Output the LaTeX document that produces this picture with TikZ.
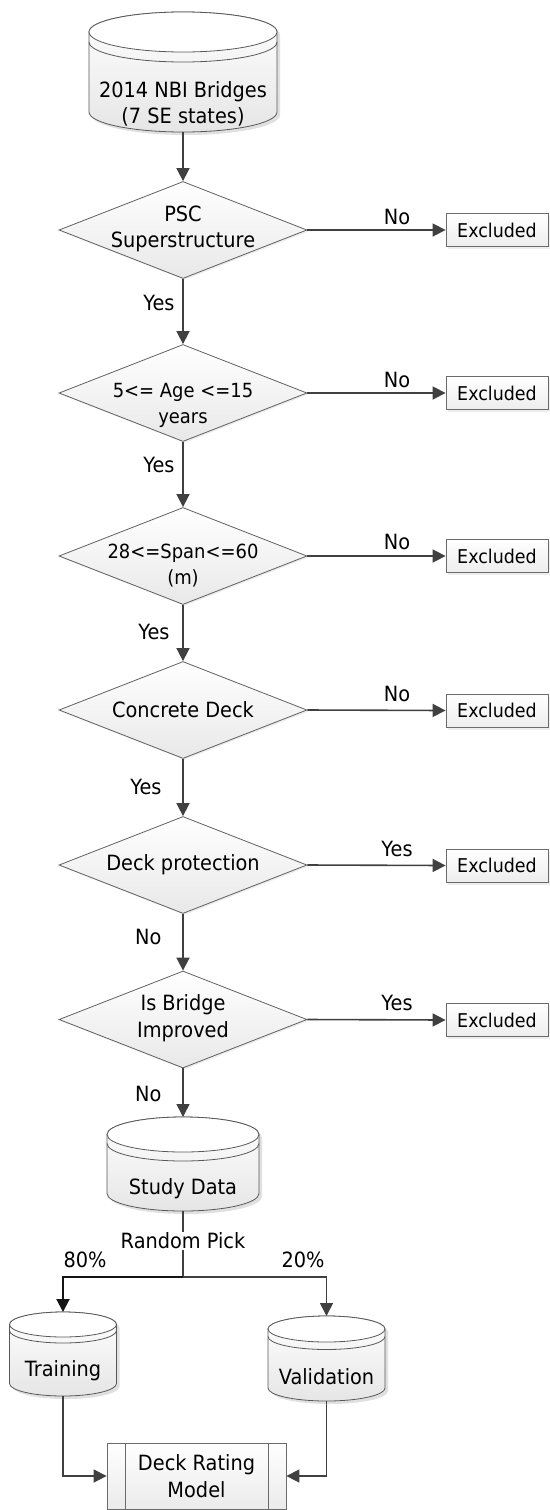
\documentclass[tikz,border=0pt]{standalone}
\usepackage{fontspec}
\setmainfont{DejaVu Sans}[FakeStretch=0.92]
\usetikzlibrary{shapes.geometric,arrows.meta,calc,shadows}

\tikzset{
  flowline/.style={draw=black!75, line width=1.6pt},
  flowarrow/.style={flowline, -{Triangle[length=13pt,width=13pt]}},
  decision/.style={diamond, draw=black!62, line width=0.8pt, inner sep=0pt,
    minimum width=248pt, minimum height=97pt, aspect=2.56,
    top color=white, bottom color=black!9,
    drop shadow={shadow xshift=1.5pt, shadow yshift=-1.5pt, fill=black!14}},
  excl/.style={rectangle, draw=black!58, line width=0.8pt, inner sep=0pt,
    minimum width=102pt, minimum height=33pt,
    top color=white, bottom color=black!7,
    font=\fontsize{19}{24}\selectfont,
    drop shadow={shadow xshift=2pt, shadow yshift=-2.5pt, fill=black!14}},
  procbox/.style={rectangle, draw=black!58, line width=0.8pt, inner sep=0pt,
    top color=white, bottom color=black!8, align=center},
  drumbody/.style={draw=black!65, line width=0.8pt, top color=white, bottom color=black!10},
  drumlid/.style={draw=black!65, line width=0.8pt, fill=white},
  drumrim/.style={draw=black!65, line width=0.8pt},
  drumhit/.style={rectangle, inner sep=0pt, outer sep=0pt},
  smalltext/.style={font=\fontsize{19.5}{26}\selectfont, align=center},
}

% database drum: centre x, top y, bottom y, x radius, y radius, rim gap
\newcommand\DrawDrum[6]{%
  \fill[black!12] ({#1-#4+3},{#2+#5+3}) -- ({#1-#4+3},{#3-#5+3})
     arc[start angle=180,end angle=360,x radius=#4pt,y radius=#5pt]
     -- ({#1+#4+3},{#2+#5+3})
     arc[start angle=0,end angle=180,x radius=#4pt,y radius=#5pt] -- cycle;
  \path[drumbody] ({#1-#4},{#2+#5}) -- ({#1-#4},{#3-#5})
     arc[start angle=180,end angle=360,x radius=#4pt,y radius=#5pt]
     -- ({#1+#4},{#2+#5})
     arc[start angle=0,end angle=180,x radius=#4pt,y radius=#5pt] -- cycle;
  \path[drumlid] (#1,{#2+#5}) ellipse[x radius=#4pt,y radius=#5pt];
  \draw[drumrim] ({#1-#4},{#2+#5+#6})
     arc[start angle=180,end angle=360,x radius=#4pt,y radius=#5pt];
}

\begin{document}
\begin{tikzpicture}[x=1pt, y=-1pt, font=\fontsize{21}{26.5}\selectfont]
\useasboundingbox (0,0) rectangle (549,1510);

% source data
\DrawDrum{183}{12}{132}{94}{20}{10}
\node[drumhit, minimum width=188pt, minimum height=120pt] (src) at (183,72) {};
\node[align=center] (srct) at (183,104) {2014 NBI Bridges\\(7 SE states)};

% screening decisions
\node[decision] (d1) at (183,230) {};
\node[align=center] (d1t) at (183,229) {PSC\\Superstructure};
\node[decision] (d2) at (183,393) {};
\node[smalltext] (d2t) at (183,405) {5<= Age <=15\\years};
\node[decision] (d3) at (183,556) {};
\node[smalltext] (d3t) at (183,566) {28<=Span<=60\\(m)};
\node[decision] (d4) at (183,710) {};
\node (d4t) at (183,710) {Concrete Deck};
\node[decision] (d5) at (183,865) {};
\node (d5t) at (183,865) {Deck protection};
\node[decision] (d6) at (183,1019.5) {};
\node[align=center] (d6t) at (183,1018) {Is Bridge\\Improved};

% rejected branches
\node[excl] (e1) at (497,230) {Excluded};
\node[excl] (e2) at (497,393) {Excluded};
\node[excl] (e3) at (497,556) {Excluded};
\node[excl] (e4) at (497,710.5) {Excluded};
\node[excl] (e5) at (497,865.5) {Excluded};
\node[excl] (e6) at (497,1020) {Excluded};

% filtered data set
\DrawDrum{183}{1117}{1211}{76}{17.5}{9}
\node[drumhit, minimum width=152pt, minimum height=94pt] (sd) at (183,1164) {};
\node (sdt) at (183,1189) {Study Data};

% training / validation sets
\DrawDrum{63}{1312}{1396}{53.5}{12.5}{6}
\node[drumhit, minimum width=107pt, minimum height=84pt] (tr) at (63,1354) {};
\node (trt) at (63,1371) {Training};
\DrawDrum{326.5}{1316}{1401}{58.5}{13}{7.5}
\node[drumhit, minimum width=117pt, minimum height=85pt] (va) at (326.5,1358.5) {};
\node (vat) at (326.5,1377) {Validation};

% model
\node[procbox, minimum width=179pt, minimum height=66pt] (drm) at (196.5,1476) {Deck Rating\\Model};
\draw[black!58, line width=0.8pt] ($(drm.north west)+(19,0)$) -- ($(drm.south west)+(19,0)$);
\draw[black!58, line width=0.8pt] ($(drm.north east)+(-18,0)$) -- ($(drm.south east)+(-18,0)$);

% main flow
\draw[flowarrow] (src.south) -- (d1.north);
\draw[flowarrow] (d1.south) -- (d2.north);
\draw[flowarrow] (d2.south) -- (d3.north);
\draw[flowarrow] (d3.south) -- (d4.north);
\draw[flowarrow] (d4.south) -- (d5.north);
\draw[flowarrow] (d5.south) -- (d6.north);
\draw[flowarrow] (d6.south) -- (sd.north);
\node[anchor=base east] (y1) at (178,310) {Yes};
\node[anchor=base east] (y2) at (178,472.5) {Yes};
\node[anchor=base east] (y3) at (173,639.5) {Yes};
\node[anchor=base east] (y4) at (165,794) {Yes};
\node[anchor=base east] (n5) at (165,944) {No};
\node[anchor=base east] (n6) at (165,1101) {No};

% side exits
\draw[flowarrow] (d1.east) -- (e1.west);
\draw[flowarrow] (d2.east) -- (e2.west);
\draw[flowarrow] (d3.east) -- (e3.west);
\draw[flowarrow] (d4.east) -- (e4.west);
\draw[flowarrow] (d5.east) -- (e5.west);
\draw[flowarrow] (d6.east) -- (e6.west);
\node[anchor=base] (x1) at (397,224.5) {No};
\node[anchor=base] (x2) at (397,387.5) {No};
\node[anchor=base] (x3) at (397,549.5) {No};
\node[anchor=base] (x4) at (397,701) {No};
\node[anchor=base] (x5) at (397,856) {Yes};
\node[anchor=base] (x6) at (397,1010) {Yes};

% random split
\coordinate (fork) at (183,1277);
\draw[flowline] (sd.south) -- (fork);
\node[fill=white, inner sep=1pt] (rp) at (183,1241) {Random Pick};
\draw[flowarrow, draw=black!92, line width=2pt] (fork) -| (tr.north);
\draw[flowarrow] (fork) -| (va.north);
\node (p80) at (85,1260) {80\%};
\node (p20) at (303,1260) {20\%};

% into the model
\draw[flowarrow] (tr.south) |- (drm.west);
\draw[flowarrow] (va.south) |- (drm.east);
\end{tikzpicture}
\end{document}
